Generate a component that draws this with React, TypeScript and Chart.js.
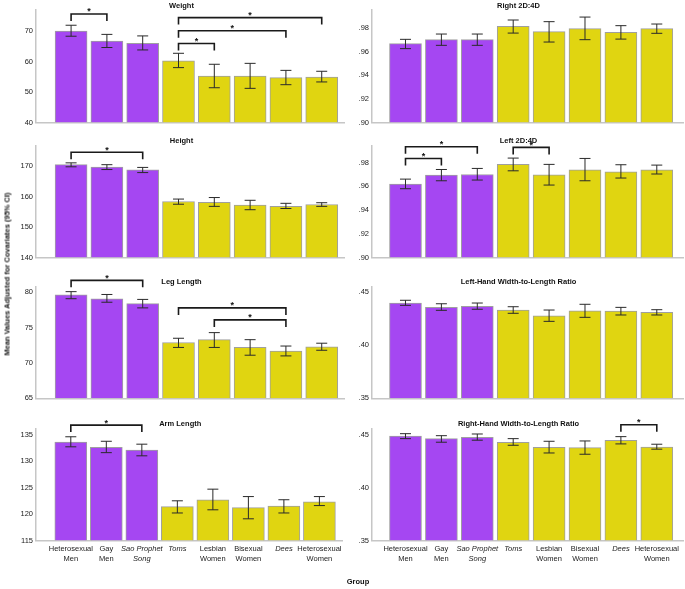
import React, { useEffect, useRef } from "react";
import { Chart, registerables } from "chart.js";
Chart.register(...registerables);

// ---------- data ----------
const groupLabels: string[][] = [
  ["Heterosexual", "Men"],
  ["Gay", "Men"],
  ["Sao Prophet", "Song"],
  ["Toms"],
  ["Lesbian", "Women"],
  ["Bisexual", "Women"],
  ["Dees"],
  ["Heterosexual", "Women"],
];
const italicGroup = [false, false, true, true, false, false, true, false];
const groupIsMale = [true, true, true, false, false, false, false, false];

const weightMean = [70.0, 66.7, 66.0, 60.2, 55.2, 55.2, 54.7, 54.9];
const weightLow = [68.3, 64.6, 63.8, 58.0, 51.4, 51.2, 52.4, 53.3];
const weightHigh = [71.9, 68.9, 68.4, 62.7, 59.1, 59.4, 57.1, 56.8];
const weightTicks = [40, 50, 60, 70];
const weightRange = [40, 76.9];
const weightBrackets = [[0, 1, 75.6], [3, 7, 74.4], [3, 6, 70.1], [3, 4, 65.9]];

const heightMean = [170.5, 169.7, 168.8, 158.4, 158.1, 157.2, 156.8, 157.4];
const heightLow = [169.8, 168.9, 167.9, 157.5, 156.8, 155.7, 156.1, 156.8];
const heightHigh = [171.1, 170.5, 169.6, 159.2, 159.7, 158.8, 157.8, 158.0];
const heightTicks = [140, 150, 160, 170];
const heightRange = [140, 176.8];
const heightBrackets = [[0, 2, 174.6]];

const legMean = [79.65, 79.1, 78.4, 72.9, 73.3, 72.2, 71.7, 72.3];
const legLow = [79.1, 78.6, 77.8, 72.2, 72.2, 71.1, 71.0, 71.8];
const legHigh = [80.1, 79.7, 79.0, 73.5, 74.3, 73.3, 72.4, 72.8];
const legTicks = [65, 70, 75, 80];
const legRange = [65, 80.8];
const legBrackets = [[0, 2, 81.7], [3, 6, 77.8], [4, 6, 76.1]];

const armMean = [133.6, 132.6, 132.1, 121.4, 122.7, 121.2, 121.5, 122.3];
const armLow = [132.7, 131.6, 131.0, 120.2, 120.8, 119.1, 120.2, 121.6];
const armHigh = [134.6, 133.75, 133.2, 122.5, 124.7, 123.3, 122.7, 123.3];
const armTicks = [115, 120, 125, 130, 135];
const armRange = [115, 136.2];
const armBrackets = [[0, 2, 136.8]];

const r2dMean = [0.9669, 0.9703, 0.9703, 0.9816, 0.9771, 0.9797, 0.9765, 0.9797];
const r2dLow = [0.9627, 0.9655, 0.9655, 0.9759, 0.9683, 0.9703, 0.9708, 0.9757];
const r2dHigh = [0.9706, 0.9751, 0.9751, 0.987, 0.9856, 0.9895, 0.9822, 0.9836];
const r2dTicks = [0.9, 0.92, 0.94, 0.96, 0.98];
const r2dRange = [0.9, 0.9955];
const r2dBrackets: number[][] = [];

const l2dMean = [0.9618, 0.9694, 0.9699, 0.9784, 0.9697, 0.9739, 0.9722, 0.9739];
const l2dLow = [0.9579, 0.9646, 0.9652, 0.973, 0.961, 0.9646, 0.9669, 0.9703];
const l2dHigh = [0.966, 0.9741, 0.975, 0.9837, 0.9784, 0.9834, 0.9781, 0.9778];
const l2dTicks = [0.9, 0.92, 0.94, 0.96, 0.98];
const l2dRange = [0.9, 0.9943];
const l2dBrackets = [[0, 2, 0.9933], [0, 1, 0.9834], [3, 4, 0.9927]];

const lhrMean = [0.4399, 0.4358, 0.4368, 0.4333, 0.4279, 0.4326, 0.4324, 0.4311];
const lhrLow = [0.4377, 0.433, 0.434, 0.4302, 0.4226, 0.4264, 0.4286, 0.4286];
const lhrHigh = [0.4425, 0.4392, 0.4399, 0.4364, 0.4333, 0.4387, 0.4358, 0.4336];
const lhrTicks = [0.35, 0.4, 0.45];
const lhrRange = [0.35, 0.4553];
const lhrBrackets: number[][] = [];

const rhrMean = [0.4491, 0.4466, 0.4479, 0.4432, 0.4384, 0.4381, 0.4451, 0.4387];
const rhrLow = [0.4466, 0.4432, 0.4451, 0.4403, 0.433, 0.4318, 0.4416, 0.4366];
const rhrHigh = [0.4513, 0.4494, 0.451, 0.4466, 0.4441, 0.4444, 0.4485, 0.4413];
const rhrTicks = [0.35, 0.4, 0.45];
const rhrRange = [0.35, 0.4564];
const rhrBrackets = [[6, 7, 0.4598]];

const yAxisTitle = "Mean Values Adjusted for Covariates (95% CI)";
const xAxisTitle = "Group";

// ---------- style / layout ----------
const FONT = "'Liberation Sans', Arial, sans-serif";
const PURPLE = "#a547f2";
const YELLOW = "#e0d511";
const AXIS = "#c6c6c6";

const intFmt = (v: number) => String(v);
const decFmt = (v: number) => v.toFixed(2).replace(/^0/, "");

const ROWS = [
  { top: 0, height: 130, axisTop: 10, axisBottom: 122.5 },
  { top: 130, height: 138, axisTop: 145.5, axisBottom: 257.5 },
  { top: 268, height: 138, axisTop: 286.7, axisBottom: 398.3 },
  { top: 406, height: 183, axisTop: 428.3, axisBottom: 540.5 },
];
const COLS = [
  { left: 0, width: 345, yWidth: 36, padRight: 0, xMin: 0.02, xMax: 8.65 },
  { left: 345, width: 340, yWidth: 27, padRight: 2, xMin: 0.067, xMax: 8.73 },
];

type PanelDef = {
  title: string;
  mean: number[];
  low: number[];
  high: number[];
  ticks: number[];
  range: number[];
  brackets: number[][];
  fmt: (v: number) => string;
  row: number;
  col: number;
};

const panels: PanelDef[] = [
  { title: "Weight", mean: weightMean, low: weightLow, high: weightHigh, ticks: weightTicks, range: weightRange, brackets: weightBrackets, fmt: intFmt, row: 0, col: 0 },
  { title: "Right 2D:4D", mean: r2dMean, low: r2dLow, high: r2dHigh, ticks: r2dTicks, range: r2dRange, brackets: r2dBrackets, fmt: decFmt, row: 0, col: 1 },
  { title: "Height", mean: heightMean, low: heightLow, high: heightHigh, ticks: heightTicks, range: heightRange, brackets: heightBrackets, fmt: intFmt, row: 1, col: 0 },
  { title: "Left 2D:4D", mean: l2dMean, low: l2dLow, high: l2dHigh, ticks: l2dTicks, range: l2dRange, brackets: l2dBrackets, fmt: decFmt, row: 1, col: 1 },
  { title: "Leg Length", mean: legMean, low: legLow, high: legHigh, ticks: legTicks, range: legRange, brackets: legBrackets, fmt: intFmt, row: 2, col: 0 },
  { title: "Left-Hand Width-to-Length Ratio", mean: lhrMean, low: lhrLow, high: lhrHigh, ticks: lhrTicks, range: lhrRange, brackets: lhrBrackets, fmt: decFmt, row: 2, col: 1 },
  { title: "Arm Length", mean: armMean, low: armLow, high: armHigh, ticks: armTicks, range: armRange, brackets: armBrackets, fmt: intFmt, row: 3, col: 0 },
  { title: "Right-Hand Width-to-Length Ratio", mean: rhrMean, low: rhrLow, high: rhrHigh, ticks: rhrTicks, range: rhrRange, brackets: rhrBrackets, fmt: decFmt, row: 3, col: 1 },
];

function Panel({ p }: { p: PanelDef }) {
  const ref = useRef<HTMLCanvasElement>(null);
  const row = ROWS[p.row];
  const col = COLS[p.col];
  useEffect(() => {
    const overlay = {
      id: "overlay",
      afterDatasetsDraw(chart: any) {
        const { ctx } = chart;
        const xs = chart.scales.x;
        const ys = chart.scales.y;
        ctx.save();
        ctx.strokeStyle = "#2a2a2a";
        ctx.lineWidth = 1;
        p.mean.forEach((_, i) => {
          const x = xs.getPixelForValue(i + 1);
          const yl = ys.getPixelForValue(p.low[i]);
          const yh = ys.getPixelForValue(p.high[i]);
          ctx.beginPath();
          ctx.moveTo(x, yl);
          ctx.lineTo(x, yh);
          ctx.moveTo(x - 5.5, yl);
          ctx.lineTo(x + 5.5, yl);
          ctx.moveTo(x - 5.5, yh);
          ctx.lineTo(x + 5.5, yh);
          ctx.stroke();
        });
        ctx.restore();
      },
      afterDraw(chart: any) {
        const { ctx, chartArea } = chart;
        const xs = chart.scales.x;
        const ys = chart.scales.y;
        ctx.save();
        ctx.strokeStyle = "#1a1a1a";
        ctx.lineWidth = 1.6;
        ctx.fillStyle = "#111";
        ctx.font = `bold 9px ${FONT}`;
        ctx.textAlign = "center";
        ctx.textBaseline = "alphabetic";
        p.brackets.forEach(([a, b, lvl]) => {
          const xa = xs.getPixelForValue(a + 1);
          const xb = xs.getPixelForValue(b + 1);
          const y = ys.getPixelForValue(lvl);
          ctx.beginPath();
          ctx.moveTo(xa, y + 7);
          ctx.lineTo(xa, y);
          ctx.lineTo(xb, y);
          ctx.lineTo(xb, y + 7);
          ctx.stroke();
          ctx.fillText("*", (xa + xb) / 2, y + 0.5);
        });
        ctx.fillStyle = "#111";
        ctx.font = `bold 7.5px ${FONT}`;
        ctx.textBaseline = "middle";
        ctx.fillText(p.title, (chartArea.left + chartArea.right) / 2 - 9, chartArea.top - 4.5);
        ctx.restore();
      },
    };
    const chart = new Chart(ref.current as HTMLCanvasElement, {
      type: "bar",
      data: {
        datasets: [
          {
            data: p.mean.map((v, i) => ({ x: i + 1, y: v })),
            base: p.range[0],
            backgroundColor: groupIsMale.map((m) => (m ? PURPLE : YELLOW)),
            borderColor: "rgba(95,95,95,0.6)",
            borderWidth: 1,
            borderSkipped: "start",
            barThickness: 32,
          } as any,
        ],
      },
      options: {
        responsive: false,
        animation: false,
        events: [],
        layout: { padding: { top: row.axisTop - row.top, left: 0, right: col.padRight, bottom: 0 } },
        plugins: { legend: { display: false }, tooltip: { enabled: false }, title: { display: false } },
        scales: {
          x: {
            type: "linear",
            min: col.xMin,
            max: col.xMax,
            offset: false,
            bounds: "data",
            grid: { display: false, drawTicks: false },
            border: { display: true, color: AXIS, width: 1.5 },
            afterBuildTicks: (s: any) => {
              s.ticks = groupLabels.map((_, i) => ({ value: i + 1 }));
            },
            afterFit: (s: any) => {
              s.height = row.top + row.height - row.axisBottom;
            },
            ticks: {
              display: p.row === 3,
              autoSkip: false,
              maxRotation: 0,
              minRotation: 0,
              padding: 3.5,
              color: "#222",
              font: (c: any) => ({ family: FONT, size: 7.5, lineHeight: 1.3, style: italicGroup[c.index] ? "italic" : "normal" }),
              callback: (v: any) => groupLabels[Math.round(Number(v)) - 1],
            },
          },
          y: {
            min: p.range[0],
            max: p.range[1],
            bounds: "data",
            grid: { display: false, drawTicks: false },
            border: { display: true, color: AXIS, width: 1.5 },
            afterBuildTicks: (s: any) => {
              s.ticks = p.ticks.map((v) => ({ value: v }));
            },
            afterFit: (s: any) => {
              s.width = col.yWidth;
            },
            ticks: {
              padding: 3,
              color: "#222",
              font: { family: FONT, size: 7.5 },
              callback: (v: any) => p.fmt(Number(v)),
            },
          },
        },
      } as any,
      plugins: [overlay],
    });
    return () => chart.destroy();
  }, []);
  return (
    <canvas
      ref={ref}
      width={col.width}
      height={row.height}
      style={{ position: "absolute", left: col.left, top: row.top, width: col.width, height: row.height }}
    />
  );
}

export default function App() {
  return (
    <div style={{ position: "absolute", left: 0, top: 0, width: 685, height: 589, background: "#fff", overflow: "hidden", fontFamily: FONT }}>
      {panels.map((p) => (
        <Panel key={p.title} p={p} />
      ))}
      <div
        style={{
          position: "absolute",
          left: 7,
          top: 274,
          transform: "translate(-50%, -50%) rotate(-90deg)",
          whiteSpace: "nowrap",
          fontWeight: "bold",
          fontSize: 7.5,
          color: "#111",
        }}
      >
        {yAxisTitle}
      </div>
      <div
        style={{
          position: "absolute",
          left: 358,
          top: 581,
          transform: "translate(-50%, -50%)",
          whiteSpace: "nowrap",
          fontWeight: "bold",
          fontSize: 7.5,
          color: "#111",
        }}
      >
        {xAxisTitle}
      </div>
    </div>
  );
}
